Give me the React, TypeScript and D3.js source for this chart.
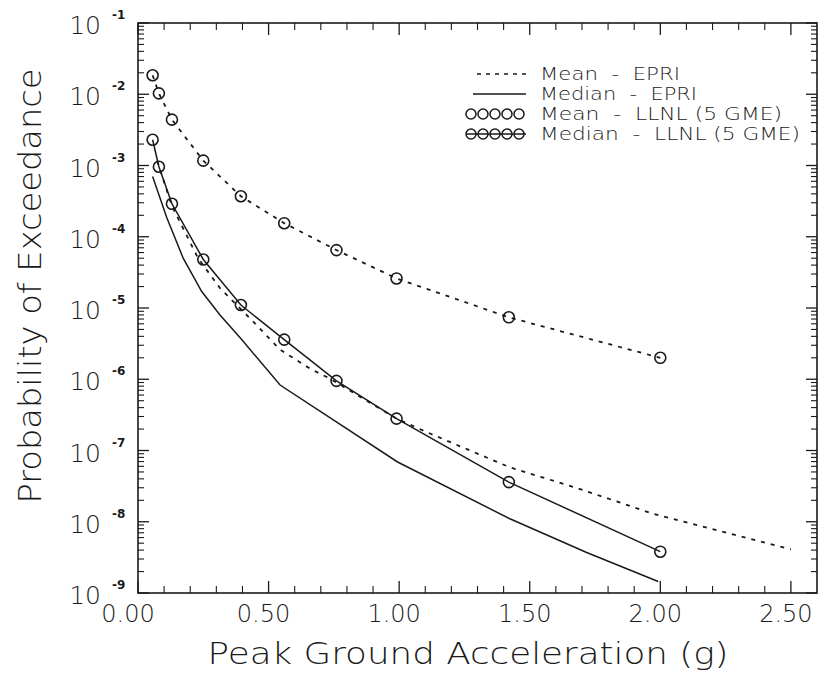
import React from 'react';
import * as d3 from 'd3';

// hazard curves (PGA in g, annual probability of exceedance)
const pgaLLNL = [0.056, 0.08, 0.13, 0.25, 0.394, 0.56, 0.76, 0.99, 1.42, 2.0];
const probMeanLLNL = [1.85e-2, 1.03e-2, 4.4e-3, 1.17e-3, 3.7e-4, 1.55e-4, 6.5e-5, 2.6e-5, 7.4e-6, 2.0e-6];
const probMedianLLNL = [2.3e-3, 9.6e-4, 2.9e-4, 4.8e-5, 1.1e-5, 3.6e-6, 9.5e-7, 2.8e-7, 3.6e-8, 3.8e-9];

const pgaMedianEPRI = [0.056, 0.11, 0.173, 0.244, 0.314, 0.397, 0.544, 0.761, 0.994, 1.424, 1.718, 1.992];
const probMedianEPRI = [7.0e-4, 1.86e-4, 5.0e-5, 1.7e-5, 8.0e-6, 3.6e-6, 8.3e-7, 2.5e-7, 6.9e-8, 1.1e-8, 3.7e-9, 1.45e-9];

const pgaMeanEPRI = [0.073, 0.13, 0.23, 0.314, 0.44, 0.544, 0.66, 0.735, 0.99, 1.118, 1.424, 1.69, 1.97, 2.5];
const probMeanEPRI = [1.17e-3, 2.7e-4, 5.0e-5, 1.9e-5, 6.5e-6, 2.6e-6, 1.4e-6, 1.02e-6, 2.8e-7, 1.73e-7, 5.8e-8, 2.9e-8, 1.3e-8, 4.1e-9];

const xTicks = [0, 0.5, 1.0, 1.5, 2.0, 2.5];
const decades = [-9, -8, -7, -6, -5, -4, -3, -2, -1];

const legendNames = ['Mean', 'Median', 'Mean', 'Median'];
const legendSources = ['EPRI', 'EPRI', 'LLNL (5 GME)', 'LLNL (5 GME)'];

const FONT = "'DejaVu Sans', sans-serif";
const INK = '#1a1a1a';

export default function App() {
  const W = 819, H = 673;
  const left = 138, right = 817, top = 23, bottom = 593;

  const x = d3.scaleLinear().domain([0, 2.6]).range([left, right]);
  const y = d3.scaleLog().domain([1e-9, 1e-1]).range([bottom, top]);

  const line = d3
    .line<[number, number]>()
    .x((d) => x(d[0]))
    .y((d) => y(d[1]));

  const zip = (a: number[], b: number[]) => a.map((v, i) => [v, b[i]] as [number, number]);

  const meanLLNL = zip(pgaLLNL, probMeanLLNL);
  const medianLLNL = zip(pgaLLNL, probMedianLLNL);
  const meanEPRI = zip(pgaMeanEPRI, probMeanEPRI);
  const medianEPRI = zip(pgaMedianEPRI, probMedianEPRI);

  // minor log ticks
  const logMinor: number[] = [];
  decades.slice(0, -1).forEach((d) => {
    for (let k = 2; k <= 9; k++) logMinor.push(k * Math.pow(10, d));
  });
  const linMinor = d3.range(1, 26).map((i) => i / 10).filter((v) => Math.abs(v * 2 - Math.round(v * 2)) > 1e-6);

  const legendY = [74, 94, 114, 134];
  const legendLens = [140, 157, 242, 260];

  return (
    <svg width={W} height={H} style={{ position: 'absolute', left: 0, top: 0, background: '#fff' }}>
      <rect width={W} height={H} fill="#fff" />

      {/* frame */}
      <rect x={left} y={top} width={right - left} height={bottom - top} fill="none" stroke={INK} strokeWidth={1.6} />

      {/* log ticks left & right */}
      {decades.map((d) => (
        <g key={'M' + d}>
          <line x1={left} x2={left + 11} y1={y(Math.pow(10, d))} y2={y(Math.pow(10, d))} stroke={INK} strokeWidth={1.3} />
          <line x1={right} x2={right - 11} y1={y(Math.pow(10, d))} y2={y(Math.pow(10, d))} stroke={INK} strokeWidth={1.3} />
        </g>
      ))}
      {logMinor.map((v, i) => (
        <g key={'m' + i}>
          <line x1={left} x2={left + 6} y1={y(v)} y2={y(v)} stroke={INK} strokeWidth={1.1} />
          <line x1={right} x2={right - 6} y1={y(v)} y2={y(v)} stroke={INK} strokeWidth={1.1} />
        </g>
      ))}

      {/* linear ticks bottom & top */}
      {xTicks.map((v) => (
        <g key={'X' + v}>
          <line x1={x(v)} x2={x(v)} y1={bottom} y2={bottom - 12} stroke={INK} strokeWidth={1.3} />
          <line x1={x(v)} x2={x(v)} y1={top} y2={top + 12} stroke={INK} strokeWidth={1.3} />
        </g>
      ))}
      {linMinor.map((v, i) => (
        <g key={'x' + i}>
          <line x1={x(v)} x2={x(v)} y1={bottom} y2={bottom - 7} stroke={INK} strokeWidth={1.1} />
          <line x1={x(v)} x2={x(v)} y1={top} y2={top + 7} stroke={INK} strokeWidth={1.1} />
        </g>
      ))}

      {/* y tick labels */}
      {decades.map((d) => (
        <g key={'yl' + d} fill={INK} fontFamily={FONT} fontWeight={200}>
          <text x={101} y={y(Math.pow(10, d)) + 11} fontSize={25} textAnchor="end">
            10
          </text>
          <text x={112} y={y(Math.pow(10, d)) - 4} fontSize={12} fontWeight={700}>
            {'-' + Math.abs(d)}
          </text>
        </g>
      ))}

      {/* x tick labels */}
      {xTicks.map((v, i) => (
        <text
          key={'xl' + v}
          x={x(v) - (i === 0 ? 10 : 5)}
          y={622}
          fontSize={24}
          fontFamily={FONT}
          fontWeight={200}
          fill={INK}
          textAnchor="middle"
        >
          {v.toFixed(2)}
        </text>
      ))}

      {/* axis titles */}
      <text
        x={468}
        y={664}
        fontSize={30}
        fontFamily={FONT}
        fontWeight={200}
        fill={INK}
        textAnchor="middle"
        textLength={521}
        lengthAdjust="spacingAndGlyphs"
      >
        Peak Ground Acceleration (g)
      </text>
      <text
        transform="translate(41,286) rotate(-90)"
        fontSize={32}
        fontFamily={FONT}
        fontWeight={200}
        fill={INK}
        textAnchor="middle"
        textLength={435}
        lengthAdjust="spacingAndGlyphs"
      >
        Probability of Exceedance
      </text>

      {/* curves */}
      <path d={line(meanEPRI) || ''} fill="none" stroke={INK} strokeWidth={1.8} strokeDasharray="4,6" />
      <path d={line(medianEPRI) || ''} fill="none" stroke={INK} strokeWidth={1.5} />
      <path d={line(meanLLNL) || ''} fill="none" stroke={INK} strokeWidth={1.8} strokeDasharray="4,6" />
      <path d={line(medianLLNL) || ''} fill="none" stroke={INK} strokeWidth={1.5} />
      {meanLLNL.map((d, i) => (
        <circle key={'c1' + i} cx={x(d[0])} cy={y(d[1])} r={5.5} fill="none" stroke={INK} strokeWidth={1.6} />
      ))}
      {medianLLNL.map((d, i) => (
        <circle key={'c2' + i} cx={x(d[0])} cy={y(d[1])} r={5.5} fill="none" stroke={INK} strokeWidth={1.6} />
      ))}

      {/* legend */}
      <g>
        <line x1={477} x2={526} y1={legendY[0]} y2={legendY[0]} stroke={INK} strokeWidth={1.6} strokeDasharray="4,5" />
        <line x1={473} x2={526} y1={legendY[1]} y2={legendY[1]} stroke={INK} strokeWidth={1.5} />
        <line x1={466} x2={526} y1={legendY[3]} y2={legendY[3]} stroke={INK} strokeWidth={1.5} />
        {[2, 3].map((row) =>
          [471, 483, 495, 507, 519].map((cx) => (
            <circle key={row + '-' + cx} cx={cx} cy={legendY[row]} r={5} fill="none" stroke={INK} strokeWidth={1.5} />
          ))
        )}
        {legendNames.map((n, i) => (
          <text
            key={'lg' + i}
            x={540}
            y={legendY[i] + 6}
            fontSize={17}
            fontFamily={FONT}
            fontWeight={200}
            fill={INK}
            textLength={legendLens[i]}
            lengthAdjust="spacingAndGlyphs"
            style={{ whiteSpace: 'pre' }}
          >
            {n + '  -  ' + legendSources[i]}
          </text>
        ))}
      </g>
    </svg>
  );
}
